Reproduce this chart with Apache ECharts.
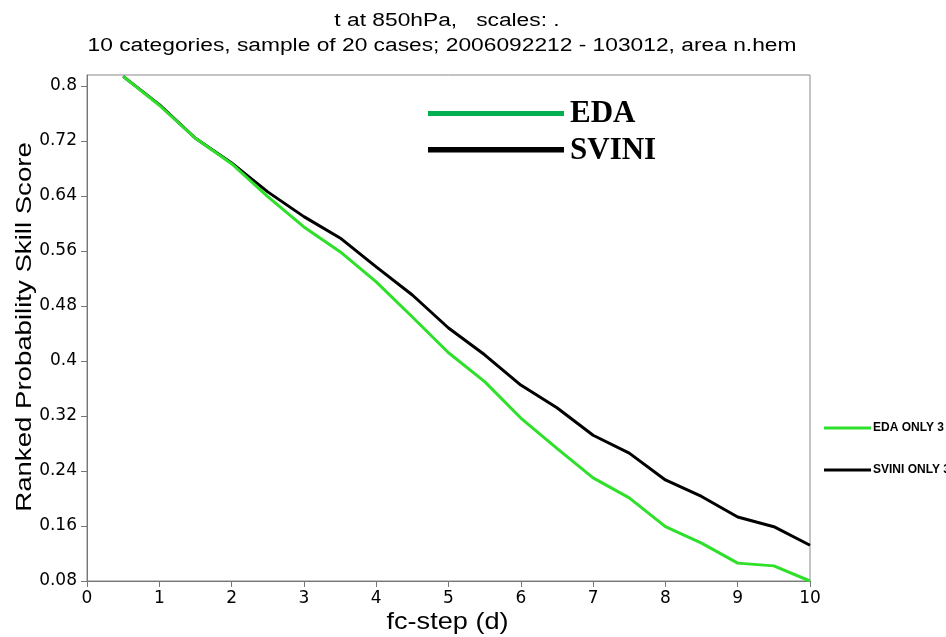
<!DOCTYPE html>
<html>
<head>
<meta charset="utf-8">
<script src="https://cdn.jsdelivr.net/npm/echarts@6/dist/echarts.min.js"></script>
<style>html,body{margin:0;padding:0;background:#fff}#c{width:946px;height:637px}</style>
</head>
<body>
<div id="c"></div>
<script>
const fcStep = [0.5,1,1.5,2,2.5,3,3.5,4,4.5,5,5.5,6,6.5,7,7.5,8,8.5,9,9.5,10];
const edaValues = [0.814,0.772,0.724,0.687,0.639,0.595,0.559,0.515,0.464,0.412,0.370,0.317,0.273,0.230,0.201,0.159,0.135,0.106,0.102,0.080];
const sviniValues = [0.814,0.773,0.724,0.688,0.646,0.610,0.579,0.537,0.496,0.448,0.409,0.365,0.332,0.292,0.266,0.227,0.203,0.173,0.159,0.132];
const seriesNames = ['EDA', 'SVINI'];
const legendSuffix = ' ONLY 3';
const titleLines = ['t at 850hPa,   scales: .', '10 categories, sample of 20 cases; 2006092212 - 103012, area n.hem'];
const xAxisName = 'fc-step (d)';
const yAxisName = 'Ranked Probability Skill Score';

const chart = echarts.init(document.getElementById('c'), null, {renderer: 'canvas'});
const sans = '"Liberation Sans", Arial, sans-serif';
const tickFont = '"DejaVu Sans", sans-serif';
function txt(text, x, y, size, sx, opts) {
  return Object.assign({
    type: 'text', x: x, y: y, scaleX: sx, scaleY: 1,
    style: {text: text, x: 0, y: 0, align: 'center', verticalAlign: 'middle',
      font: size + 'px ' + sans, fill: '#000'}
  }, opts || {});
}
chart.setOption({
  animation: false,
  backgroundColor: '#fff',
  legend: {
    orient: 'vertical', left: 819, top: 417, itemGap: 30,
    itemWidth: 47, itemHeight: 3, icon: 'rect',
    formatter: n => n + legendSuffix,
    textStyle: {fontFamily: sans, fontWeight: 'bold', fontSize: 12, color: '#000', padding: [0,0,0,-3]}
  },
  grid: {left: 87, right: 136, top: 75, bottom: 56, show: true, borderColor: '#888', borderWidth: 1},
  xAxis: {
    type: 'value', min: 0, max: 10, interval: 1,
    axisLine: {lineStyle: {color: '#777'}},
    axisTick: {show: true, length: 6, lineStyle: {color: '#777'}},
    axisLabel: {fontFamily: tickFont, fontSize: 17, color: '#000', margin: 9},
    splitLine: {show: false}
  },
  yAxis: {
    type: 'value', min: 0.08, max: 0.816, interval: 0.08,
    axisLine: {show: true, lineStyle: {color: '#777'}},
    axisTick: {show: true, length: 6, lineStyle: {color: '#777'}},
    axisLabel: {fontFamily: tickFont, fontSize: 17, color: '#000', margin: 10, showMaxLabel: false,
      formatter: v => String(parseFloat(v.toFixed(2)))},
    splitLine: {show: false}
  },
  series: [
    {name: seriesNames[0], type: 'line', symbol: 'none', data: fcStep.map((x,i)=>[x, edaValues[i]]),
     lineStyle: {color: '#2ee02a', width: 3}, itemStyle: {color: '#2ee02a'}, z: 3},
    {name: seriesNames[1], type: 'line', symbol: 'none', data: fcStep.map((x,i)=>[x, sviniValues[i]]),
     lineStyle: {color: '#000', width: 3}, itemStyle: {color: '#000'}, z: 2}
  ],
  graphic: [
    txt(titleLines[0], 447, 21.5, 18, 1.265),
    txt(titleLines[1], 442, 46.5, 18, 1.265),
    txt(xAxisName, 447.5, 622, 24, 1.13),
    txt(yAxisName, 24.5, 327, 22, 1.254, {rotation: Math.PI / 2}),
    {type: 'rect', shape: {x: 428, y: 111, width: 136, height: 5}, style: {fill: '#00b050'}},
    {type: 'text', x: 570, y: 113.5, style: {text: seriesNames[0], x: 0, y: 0, verticalAlign: 'middle', font: 'bold 31px "Liberation Serif", serif', fill: '#000'}},
    {type: 'rect', shape: {x: 428, y: 147, width: 136, height: 5.5}, style: {fill: '#000'}},
    {type: 'text', x: 570, y: 151, style: {text: seriesNames[1], x: 0, y: 0, verticalAlign: 'middle', font: 'bold 31px "Liberation Serif", serif', fill: '#000'}}
  ]
});
</script>
</body>
</html>
